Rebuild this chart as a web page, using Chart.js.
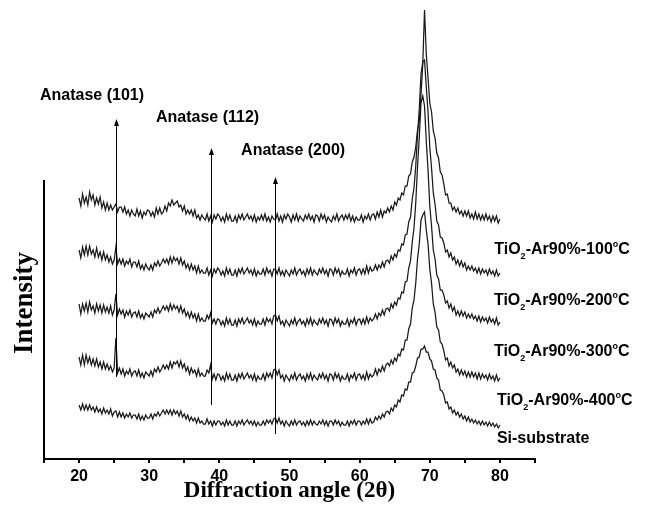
<!DOCTYPE html>
<html><head><meta charset="utf-8">
<script src="https://cdn.jsdelivr.net/npm/chart.js@4.4.1/dist/chart.umd.min.js"></script>
<style>html,body{margin:0;padding:0;background:#fff;}#wrap{width:651px;height:513px;}</style>
</head><body><div id="wrap"><canvas id="c" width="651" height="513"></canvas></div>
<script>
// 2-theta sampling positions (degrees), two degrees per row
const angles = [
20,20.25,20.5,20.75,21,21.25,21.5,21.75,
22,22.25,22.5,22.75,23,23.25,23.5,23.75,
24,24.25,24.5,24.75,25,25.25,25.5,25.75,
26,26.25,26.5,26.75,27,27.25,27.5,27.75,
28,28.25,28.5,28.75,29,29.25,29.5,29.75,
30,30.25,30.5,30.75,31,31.25,31.5,31.75,
32,32.25,32.5,32.75,33,33.25,33.5,33.75,
34,34.25,34.5,34.75,35,35.25,35.5,35.75,
36,36.25,36.5,36.75,37,37.25,37.5,37.75,
38,38.25,38.5,38.75,39,39.25,39.5,39.75,
40,40.25,40.5,40.75,41,41.25,41.5,41.75,
42,42.25,42.5,42.75,43,43.25,43.5,43.75,
44,44.25,44.5,44.75,45,45.25,45.5,45.75,
46,46.25,46.5,46.75,47,47.25,47.5,47.75,
48,48.25,48.5,48.75,49,49.25,49.5,49.75,
50,50.25,50.5,50.75,51,51.25,51.5,51.75,
52,52.25,52.5,52.75,53,53.25,53.5,53.75,
54,54.25,54.5,54.75,55,55.25,55.5,55.75,
56,56.25,56.5,56.75,57,57.25,57.5,57.75,
58,58.25,58.5,58.75,59,59.25,59.5,59.75,
60,60.25,60.5,60.75,61,61.25,61.5,61.75,
62,62.25,62.5,62.75,63,63.25,63.5,63.75,
64,64.25,64.5,64.75,65,65.25,65.5,65.75,
66,66.25,66.5,66.75,67,67.25,67.5,67.75,
68,68.25,68.5,68.75,69,69.25,69.5,69.75,
70,70.25,70.5,70.75,71,71.25,71.5,71.75,
72,72.25,72.5,72.75,73,73.25,73.5,73.75,
74,74.25,74.5,74.75,75,75.25,75.5,75.75,
76,76.25,76.5,76.75,77,77.25,77.5,77.75,
78,78.25,78.5,78.75,79,79.25,79.5,79.75,
80];

// intensities (a.u., stacked offsets as plotted)
const tio2_100 = [
261,253,265,256,262,254,267,259,
264,254,261,255,262,251,257,249,
256,249,254,249,252,255,247,252,
252,247,252,245,249,243,249,245,
243,250,243,248,241,247,244,249,
248,243,247,242,251,245,251,245,
247,253,248,256,253,259,254,256,
258,252,254,248,253,245,249,245,
249,243,249,241,244,239,244,241,
239,245,238,243,237,244,240,245,
243,238,242,237,245,239,244,238,
238,243,237,244,240,245,239,242,
245,240,243,238,244,237,242,239,
244,239,245,238,242,237,243,240,
239,245,238,243,237,244,240,245,
242,237,244,239,245,238,243,240,
238,244,240,245,239,243,237,244,
243,238,245,240,244,237,242,239,
237,243,239,245,238,242,244,239,
244,240,245,238,243,237,242,239,
239,244,237,243,240,245,239,244,
245,240,247,242,249,242,248,246,
251,247,253,249,257,254,261,259,
266,264,273,273,283,285,297,302,
312,329,338,365,395,449,405,381,
356,347,328,321,306,301,287,284,
275,264,265,256,256,249,252,247,
251,245,248,243,248,243,248,241,
245,240,247,240,245,239,244,239,
245,239,243,237,243,238,243,236,
240];

const tio2_200 = [
209,201,212,204,213,204,213,205,
209,202,211,202,207,199,207,199,
204,197,202,195,199,212,195,200,
195,200,193,198,195,200,192,197,
197,192,198,190,194,189,195,191,
189,194,189,196,193,198,193,196,
200,196,200,195,202,196,202,198,
201,195,201,194,198,191,195,189,
195,189,193,186,193,186,189,186,
186,191,184,189,183,190,186,191,
189,184,188,183,191,185,190,184,
184,189,183,190,186,191,185,188,
191,186,189,184,190,183,188,185,
185,190,184,191,186,189,183,190,
190,185,191,184,188,183,189,186,
183,189,185,191,184,188,190,185,
188,183,190,185,191,184,189,186,
184,190,186,191,185,189,183,190,
189,184,191,186,190,183,188,185,
185,190,183,189,186,191,184,189,
190,185,190,185,193,186,192,188,
189,194,189,194,191,197,192,198,
199,196,203,199,205,202,209,208,
215,214,224,225,237,242,260,271,
293,324,350,385,397,399,372,347,
312,291,266,255,238,234,222,221,
216,207,209,202,206,199,202,195,
199,193,198,192,196,189,193,189,
193,188,191,186,191,185,190,186,
189,184,190,185,188,183,189,183,
186];

const tio2_300 = [
155,145,155,148,156,147,157,149,
153,146,155,148,154,146,154,147,
152,146,153,144,149,165,144,150,
145,149,142,148,144,149,142,146,
147,142,148,141,145,140,146,144,
142,147,142,149,146,151,146,149,
153,149,153,148,155,149,154,150,
153,147,153,146,150,143,147,141,
147,141,145,138,145,138,141,138,
138,144,140,146,136,140,135,140,
139,134,138,133,141,135,140,134,
134,139,133,140,136,141,135,138,
141,136,139,134,140,133,138,135,
135,140,134,141,137,140,135,143,
144,138,143,135,138,133,139,136,
133,139,135,141,134,138,140,135,
138,133,140,135,141,134,139,136,
134,140,136,141,135,139,133,140,
139,134,141,136,140,133,138,135,
135,140,133,139,136,141,134,139,
140,135,140,135,142,136,141,138,
140,145,140,146,143,149,144,150,
151,148,155,151,157,154,161,160,
167,166,177,178,191,198,217,231,
256,292,321,356,363,353,318,289,
253,233,209,200,184,180,169,169,
164,156,158,151,155,148,152,144,
148,143,148,143,147,141,145,141,
145,140,143,138,143,137,142,138,
141,136,142,137,140,135,141,134,
137];

const tio2_400 = [
102,94,104,94,104,96,102,94,
100,93,100,92,97,90,97,90,
95,89,93,87,91,121,86,91,
85,90,83,88,85,90,83,87,
88,83,89,82,86,81,87,85,
83,88,83,90,87,92,87,90,
94,90,94,90,97,91,97,95,
98,92,98,91,95,88,92,85,
91,86,89,83,90,83,86,83,
83,89,86,94,80,85,79,85,
84,79,83,78,86,80,85,79,
79,84,78,85,81,86,80,83,
86,81,84,79,85,78,83,80,
80,85,79,86,82,86,81,89,
90,84,89,81,84,78,84,81,
78,84,80,86,79,83,85,80,
83,78,85,80,86,79,84,81,
79,85,81,86,80,84,78,85,
84,79,86,81,85,78,83,80,
80,85,78,84,81,86,79,84,
85,80,84,79,87,80,85,82,
84,90,84,90,87,93,88,94,
96,93,99,95,101,98,105,103,
110,109,119,119,130,135,151,159,
176,200,215,239,244,247,229,215,
190,176,155,147,132,129,117,115,
108,99,101,93,97,91,94,87,
90,84,89,84,88,82,87,82,
87,82,86,80,86,80,85,81,
84,79,85,80,83,78,84,78,
81];

const siSubstrate = [
54,49,55,49,54,49,54,49,
52,47,52,47,50,45,51,46,
49,45,50,43,47,48,42,47,
42,46,41,45,42,46,41,44,
44,40,45,39,43,39,44,41,
41,45,40,45,43,47,43,46,
49,45,49,45,49,44,49,45,
48,43,48,42,45,40,44,38,
42,38,41,36,41,36,38,35,
35,40,35,38,33,38,34,38,
38,34,37,33,39,34,38,34,
34,38,33,38,35,39,34,37,
39,35,38,34,38,33,37,34,
34,38,34,39,36,39,35,40,
41,36,41,35,38,33,38,35,
33,38,34,39,34,37,38,34,
37,33,38,34,39,34,38,35,
34,38,35,39,34,38,33,38,
38,34,39,35,38,33,37,34,
34,38,33,38,35,39,34,38,
38,34,38,35,40,35,40,36,
37,42,39,43,40,45,42,47,
48,45,51,48,54,52,59,57,
64,63,70,69,77,77,86,87,
93,101,102,110,110,113,107,107,
100,98,90,89,81,79,69,68,
64,56,57,50,52,46,49,44,
47,42,45,40,43,38,42,37,
40,36,39,35,38,34,38,34,
37,33,37,33,36,32,35,31,
34];

const seriesLabels = ['TiO_2-Ar90%-100^oC','TiO_2-Ar90%-200^oC','TiO_2-Ar90%-300^oC','TiO_2-Ar90%-400^oC','Si-substrate'];
const peakNames = ['Anatase (101)','Anatase (112)','Anatase (200)'];
const peakAngles = [25.3, 38.8, 48.0];
const xTickValues = [15,20,25,30,35,40,45,50,55,60,65,70,75,80,85];
const xTitle = 'Diffraction angle (2θ)';
const yTitle = 'Intensity';

const allSeries = [tio2_100, tio2_200, tio2_300, tio2_400, siSubstrate];

function drawRich(ctx, text, x, y, size) {
  let cx = x;
  let i = 0;
  while (i < text.length) {
    const ch = text[i];
    if (ch === '_' || ch === '^') {
      const c = text[i + 1];
      ctx.font = 'bold 9px "Liberation Sans", Arial, sans-serif';
      ctx.fillText(c, cx, y + (ch === '_' ? 5 : -7));
      cx += ctx.measureText(c).width;
      i += 2;
      continue;
    }
    let j = i;
    while (j < text.length && text[j] !== '_' && text[j] !== '^') j++;
    const run = text.slice(i, j);
    ctx.font = 'bold ' + size + 'px "Liberation Sans", Arial, sans-serif';
    ctx.fillText(run, cx, y);
    cx += ctx.measureText(run).width;
    i = j;
  }
}

const annotPlugin = {
  id: 'annot',
  afterDatasetsDraw(chart, args, opts) {
    const {ctx} = chart;
    const xs = chart.scales.x, ys = chart.scales.y;
    ctx.save();
    ctx.strokeStyle = '#000';
    ctx.fillStyle = '#000';
    ctx.lineWidth = 1;
    opts.arrows.forEach((a, i) => {
      const px = Math.round(xs.getPixelForValue(peakAngles[i])) + 0.5;
      const yb = ys.getPixelForValue(a.from);
      const yt = ys.getPixelForValue(a.to);
      ctx.beginPath();
      ctx.moveTo(px, yb);
      ctx.lineTo(px, yt + 5);
      ctx.stroke();
      ctx.beginPath();
      ctx.moveTo(px, yt);
      ctx.lineTo(px - 2.5, yt + 7);
      ctx.lineTo(px + 2.5, yt + 7);
      ctx.closePath();
      ctx.fill();
    });
    ctx.textBaseline = 'alphabetic';
    ctx.textAlign = 'left';
    opts.peakLabelAt.forEach((p, i) => {
      drawRich(ctx, peakNames[i], xs.getPixelForValue(p[0]), ys.getPixelForValue(p[1]), 16);
    });
    opts.seriesLabelAt.forEach((p, i) => {
      drawRich(ctx, seriesLabels[i], xs.getPixelForValue(p[0]), ys.getPixelForValue(p[1]), 16);
    });
    // vertical axis title
    ctx.translate(chart.chartArea.left - opts.yTitleGap, ys.getPixelForValue(opts.yTitleAt));
    ctx.rotate(-Math.PI / 2);
    ctx.textAlign = 'center';
    ctx.textBaseline = 'middle';
    ctx.font = 'bold 27px "Liberation Serif", "Times New Roman", serif';
    ctx.fillText(yTitle, 0, 0);
    ctx.restore();
  }
};

new Chart(document.getElementById('c'), {
  type: 'line',
  data: {
    datasets: allSeries.map((s, k) => ({
      label: seriesLabels[k],
      data: angles.map((a, i) => ({x: a, y: s[i]})),
      borderColor: '#1a1a1a',
      borderWidth: 1.25,
      pointRadius: 0,
      tension: 0,
      fill: false,
      clip: false
    }))
  },
  options: {
    responsive: false,
    animation: false,
    devicePixelRatio: 1,
    layout: {padding: {left: 0, right: 116, top: 181, bottom: 0}},
    plugins: {
      legend: {display: false},
      tooltip: {enabled: false},
      annot: {
        arrows: [{from: 82, to: 340}, {from: 54, to: 311}, {from: 25, to: 282}],
        peakLabelAt: [[14.43, 359.5], [30.96, 336.8], [43.1, 304.5]],
        seriesLabelAt: [[79.19, 204.8], [79.14, 154.2], [79.14, 103.2], [79.57, 54.2], [79.57, 16]],
        yTitleGap: 18.5,
        yTitleAt: 156
      }
    },
    scales: {
      x: {
        type: 'linear', min: 15, max: 85,
        afterBuildTicks: s => { s.ticks = xTickValues.map(v => ({value: v})); },
        afterFit: s => { s.height = 54; },
        ticks: {
          callback: v => (v % 10 === 0 ? String(v) : ''),
          font: {family: '"Liberation Sans", Arial, sans-serif', size: 16, weight: 'bold', lineHeight: 1.2},
          color: '#000', padding: 4, maxRotation: 0, autoSkip: false
        },
        grid: {display: true, drawOnChartArea: false, drawTicks: true, tickLength: 4, color: '#000', lineWidth: 2},
        border: {display: true, color: '#000', width: 2},
        title: {
          display: true, text: xTitle, color: '#000',
          font: {family: '"Liberation Serif", "Times New Roman", serif', size: 23, weight: 'bold', lineHeight: 1.2},
          padding: {top: 0, bottom: 8}
        }
      },
      y: {
        type: 'linear', min: 0, max: 278,
        afterFit: s => { s.width = 44; },
        ticks: {display: false},
        grid: {display: false, drawTicks: false},
        border: {display: true, color: '#000', width: 2},
        title: {display: false}
      }
    }
  },
  plugins: [annotPlugin]
});
</script>
</body></html>
